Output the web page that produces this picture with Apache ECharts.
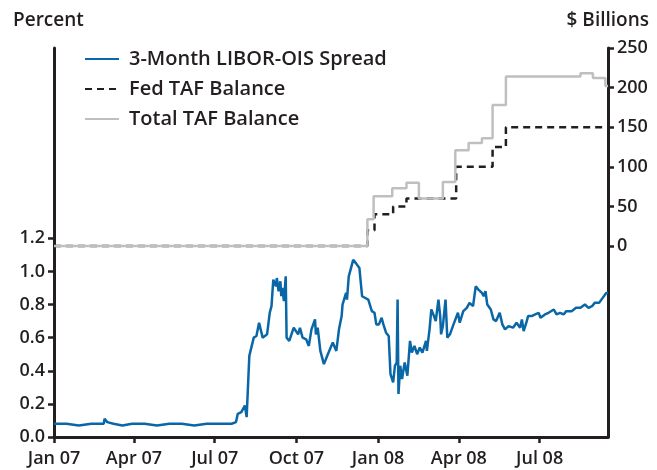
<!DOCTYPE html>
<html>
<head>
<meta charset="utf-8">
<script src="https://cdn.jsdelivr.net/npm/echarts@6/dist/echarts.min.js"></script>
<style>
  html, body { margin: 0; padding: 0; background: #fff; }
  #chart { width: 657px; height: 470px; }
</style>
</head>
<body>
<div id="chart"></div>
<script>
// quarter ticks on the time axis
const tickDates = ["2007-01-01", "2007-04-01", "2007-07-01", "2007-10-01", "2008-01-01", "2008-04-01", "2008-07-01"];
const tickLabels = ["Jan 07", "Apr 07", "Jul 07", "Oct 07", "Jan 08", "Apr 08", "Jul 08"];
const leftTicks = [0, 0.2, 0.4, 0.6, 0.8, 1.0, 1.2];
const rightTicks = [0, 50, 100, 150, 200, 250];

// 3-Month LIBOR-OIS spread, percent
const spreadDates = [
  "2007-01-01", "2007-01-15", "2007-01-29", "2007-02-12", "2007-02-26", "2007-02-27", "2007-03-02",
  "2007-03-09", "2007-03-19", "2007-03-30", "2007-04-13", "2007-04-27", "2007-05-11", "2007-05-25",
  "2007-06-08", "2007-06-22", "2007-07-06", "2007-07-20", "2007-07-25", "2007-07-27", "2007-07-31",
  "2007-08-04", "2007-08-06", "2007-08-08", "2007-08-09", "2007-08-11", "2007-08-14", "2007-08-17",
  "2007-08-20", "2007-08-21", "2007-08-24", "2007-08-29", "2007-09-01", "2007-09-03", "2007-09-05",
  "2007-09-08", "2007-09-09", "2007-09-11", "2007-09-13", "2007-09-14", "2007-09-15", "2007-09-17",
  "2007-09-19", "2007-09-20", "2007-09-23", "2007-09-28", "2007-10-03", "2007-10-05", "2007-10-08",
  "2007-10-12", "2007-10-15", "2007-10-18", "2007-10-22", "2007-10-23", "2007-10-25", "2007-10-28",
  "2007-11-01", "2007-11-04", "2007-11-07", "2007-11-11", "2007-11-15", "2007-11-18", "2007-11-21",
  "2007-11-22", "2007-11-26", "2007-11-27", "2007-11-29", "2007-12-04", "2007-12-07", "2007-12-11",
  "2007-12-14", "2007-12-21", "2007-12-25", "2007-12-28", "2007-12-30", "2008-01-02", "2008-01-05",
  "2008-01-07", "2008-01-10", "2008-01-13", "2008-01-15", "2008-01-18", "2008-01-20", "2008-01-22",
  "2008-01-23", "2008-01-24", "2008-01-26", "2008-01-28", "2008-01-31", "2008-02-03", "2008-02-06",
  "2008-02-08", "2008-02-11", "2008-02-14", "2008-02-17", "2008-02-20", "2008-02-24", "2008-02-25",
  "2008-02-28", "2008-03-01", "2008-03-04", "2008-03-06", "2008-03-09", "2008-03-11", "2008-03-12",
  "2008-03-14", "2008-03-17", "2008-03-19", "2008-03-22", "2008-03-26", "2008-03-31", "2008-04-02",
  "2008-04-06", "2008-04-10", "2008-04-13", "2008-04-17", "2008-04-20", "2008-04-23", "2008-04-27",
  "2008-04-29", "2008-05-01", "2008-05-03", "2008-05-07", "2008-05-10", "2008-05-13", "2008-05-17",
  "2008-05-20", "2008-05-23", "2008-05-27", "2008-06-01", "2008-06-05", "2008-06-09", "2008-06-11",
  "2008-06-13", "2008-06-16", "2008-06-18", "2008-06-22", "2008-06-26", "2008-06-30", "2008-07-02",
  "2008-07-07", "2008-07-11", "2008-07-17", "2008-07-20", "2008-07-24", "2008-07-28", "2008-07-31",
  "2008-08-06", "2008-08-11", "2008-08-16", "2008-08-21", "2008-08-25", "2008-08-29", "2008-09-01",
  "2008-09-06", "2008-09-10", "2008-09-14", "2008-09-16"
];
const spreadValues = [
  0.08, 0.08, 0.07, 0.08, 0.08, 0.11, 0.09,
  0.08, 0.07, 0.08, 0.08, 0.07, 0.08, 0.08,
  0.07, 0.08, 0.08, 0.08, 0.09, 0.14, 0.15,
  0.19, 0.12, 0.13, 0.49, 0.48, 0.60, 0.61,
  0.69, 0.70, 0.60, 0.62, 0.75, 0.79, 0.95,
  0.91, 0.96, 0.88, 0.94, 0.85, 0.90, 0.82,
  0.97, 0.60, 0.58, 0.66, 0.62, 0.66, 0.60,
  0.59, 0.55, 0.65, 0.71, 0.62, 0.66, 0.52,
  0.44, 0.48, 0.52, 0.57, 0.52, 0.65, 0.73,
  0.80, 0.87, 0.83, 0.97, 1.07, 1.05, 1.02,
  0.85, 0.83, 0.76, 0.75, 0.68, 0.68, 0.72,
  0.68, 0.63, 0.61, 0.38, 0.33, 0.43, 0.45,
  0.83, 0.26, 0.43, 0.35, 0.45, 0.37, 0.58,
  0.51, 0.55, 0.50, 0.54, 0.51, 0.58, 0.52,
  0.65, 0.77, 0.73, 0.70, 0.83, 0.73, 0.62,
  0.67, 0.83, 0.60, 0.62, 0.68, 0.75, 0.69,
  0.76, 0.78, 0.81, 0.79, 0.91, 0.89, 0.87,
  0.85, 0.88, 0.80, 0.77, 0.71, 0.70, 0.75,
  0.68, 0.65, 0.67, 0.66, 0.69, 0.66, 0.71,
  0.64, 0.69, 0.73, 0.73, 0.74, 0.75, 0.72,
  0.74, 0.75, 0.77, 0.74, 0.75, 0.74, 0.76,
  0.76, 0.78, 0.78, 0.80, 0.78, 0.79, 0.81,
  0.81, 0.84, 0.87, 0.87
];

// Fed TAF balance, $ billions (value holds from its date until the next date)
const fedDates = ["2007-01-01", "2007-12-20", "2007-12-28", "2008-01-18", "2008-02-02", "2008-03-29", "2008-05-09", "2008-05-24", "2008-09-16"];
const fedValues = [0, 20, 40, 50, 60, 100, 125, 150, 150];

// Total TAF balance, $ billions
const totalDates = ["2007-01-01", "2007-12-20", "2007-12-27", "2008-01-17", "2008-02-02", "2008-02-16", "2008-03-14", "2008-03-28",
  "2008-04-12", "2008-04-27", "2008-05-09", "2008-05-24", "2008-08-16", "2008-08-30", "2008-09-13", "2008-09-16"];
const totalValues = [0, 34, 63, 73, 80, 60, 81, 121, 130, 136, 178, 214, 218, 212, 202, 202];

const ink = "#231f20";
const font = "Open Sans";
const ts = (d) => Date.parse(d);
const pair = (dates, vals) => dates.map((d, i) => [ts(d), vals[i]]);

const chart = echarts.init(document.getElementById("chart"));

const axisCommon = {
  axisLine: { show: true, onZero: false, lineStyle: { color: ink, width: 3 } },
  axisTick: { show: true, length: 6, lineStyle: { color: ink, width: 2.5 } },
  splitLine: { show: false },
  axisLabel: { color: ink, fontFamily: font, fontWeight: 600, fontSize: 18 }
};

const option = {
  animation: false,
  grid: { left: 54, right: 49, top: 48, bottom: 33 },
  legend: {
    orient: "vertical",
    left: 84,
    top: 49,
    padding: 0,
    itemWidth: 34,
    itemHeight: 16,
    itemGap: 10,
    itemStyle: { opacity: 0 },
    textStyle: { color: ink, fontFamily: font, fontWeight: 600, fontSize: 20, lineHeight: 20, padding: [0, 0, 0, 5] },
    data: ["3-Month LIBOR-OIS Spread", "Fed TAF Balance", "Total TAF Balance"]
  },
  graphic: [
    { type: "text", left: 13, top: 11, style: { text: "Percent", fill: ink, font: "600 19px 'Open Sans'" } },
    { type: "text", right: 8, top: 11, style: { text: "$ Billions", fill: ink, font: "600 19px 'Open Sans'" } }
  ],
  xAxis: {
    type: "value",
    min: ts("2007-01-01"),
    max: ts("2008-09-16"),
    ...axisCommon,
    axisTick: { ...axisCommon.axisTick, customValues: tickDates.map(ts) },
    axisLabel: {
      ...axisCommon.axisLabel,
      margin: 13,
      customValues: tickDates.map(ts),
      formatter: (v) => tickLabels[tickDates.map(ts).indexOf(v)] || ""
    }
  },
  yAxis: [
    {
      type: "value",
      position: "left",
      min: 0,
      max: 2.349,
      ...axisCommon,
      axisTick: { ...axisCommon.axisTick, customValues: leftTicks },
      axisLabel: { ...axisCommon.axisLabel, margin: 9, customValues: leftTicks, formatter: (v) => v.toFixed(1) }
    },
    {
      type: "value",
      position: "right",
      min: -241,
      max: 250,
      ...axisCommon,
      axisTick: { ...axisCommon.axisTick, customValues: rightTicks },
      axisLabel: { ...axisCommon.axisLabel, margin: 9, customValues: rightTicks, formatter: (v) => String(v) }
    }
  ],
  series: [
    {
      name: "3-Month LIBOR-OIS Spread",
      type: "line",
      yAxisIndex: 0,
      symbol: "none",
      lineStyle: { color: "#0a67a7", width: 2.5 },
      itemStyle: { color: "#0a67a7" },
      data: pair(spreadDates, spreadValues)
    },
    {
      name: "Fed TAF Balance",
      type: "line",
      yAxisIndex: 1,
      step: "end",
      symbol: "none",
      z: 2,
      lineStyle: { color: ink, width: 2.5, type: [7, 5] },
      itemStyle: { color: ink },
      data: pair(fedDates, fedValues)
    },
    {
      name: "Total TAF Balance",
      type: "line",
      yAxisIndex: 1,
      step: "end",
      symbol: "none",
      z: 3,
      lineStyle: { color: "#bdbfc1", width: 2.5 },
      itemStyle: { color: "#bdbfc1" },
      data: pair(totalDates, totalValues)
    }
  ]
};

chart.setOption(option);
</script>
</body>
</html>
